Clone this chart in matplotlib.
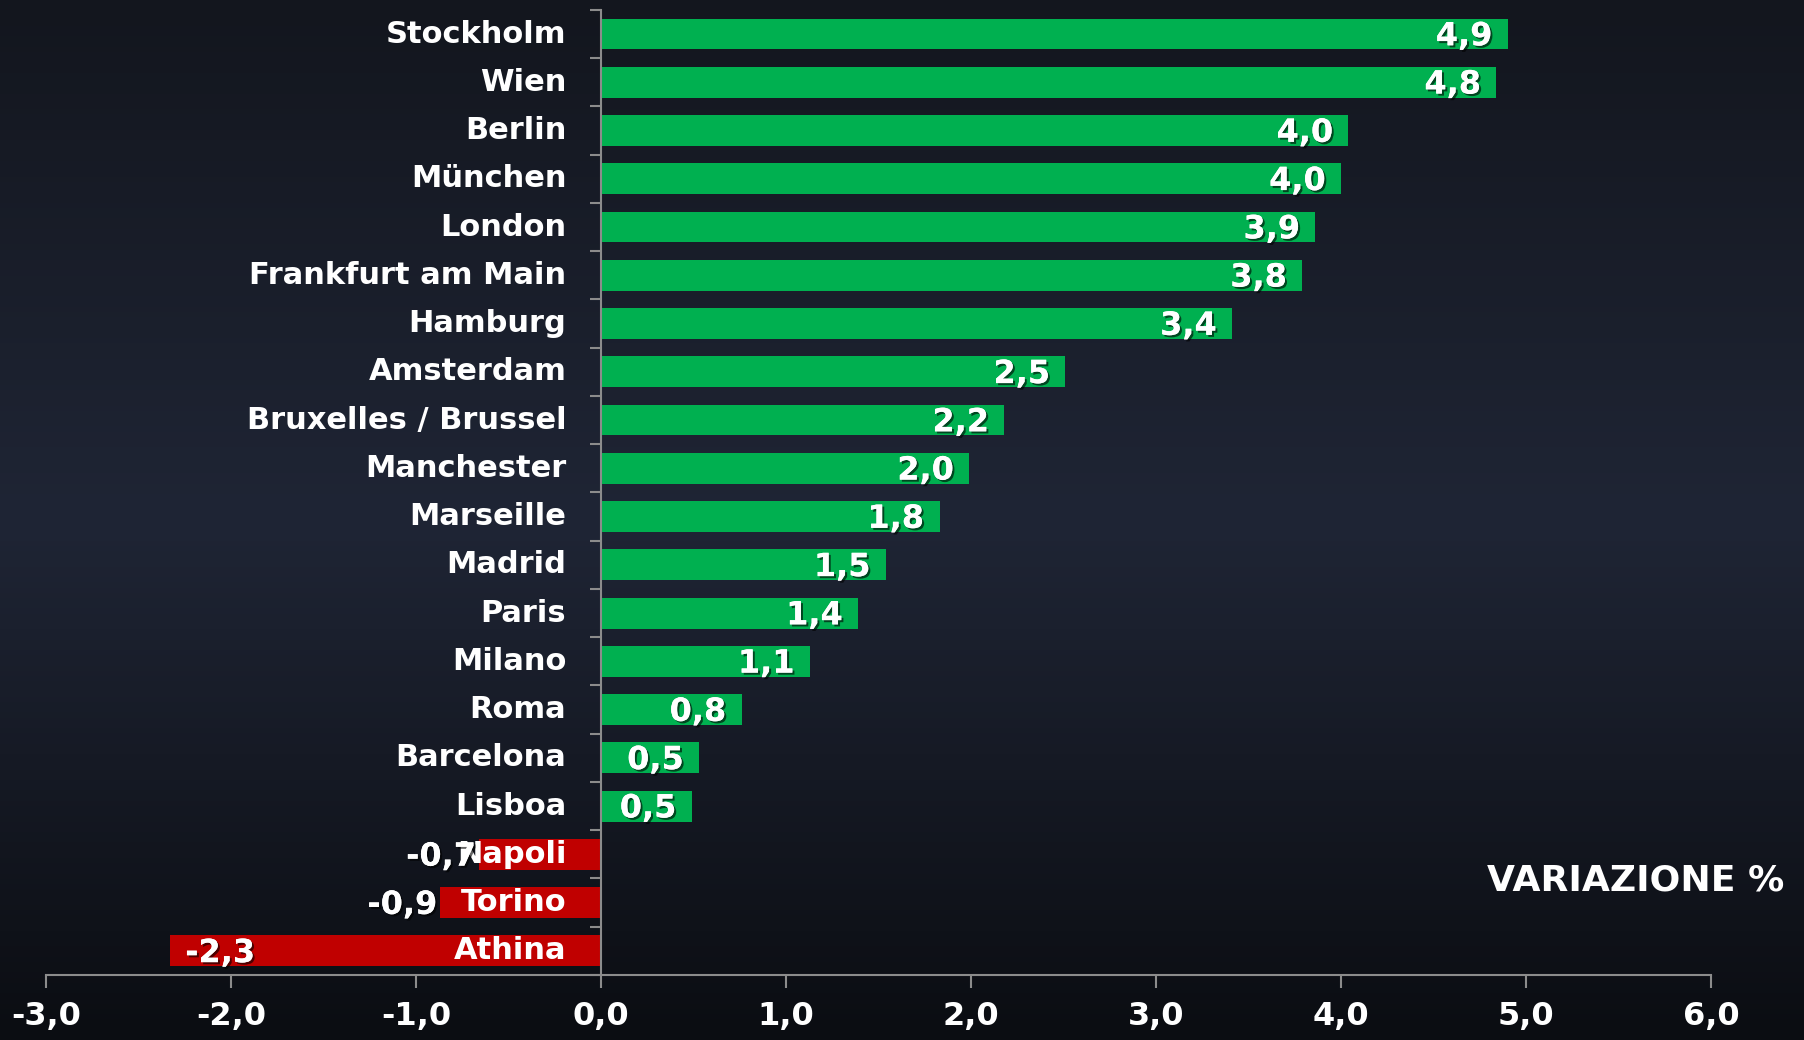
import numpy as np
import matplotlib
matplotlib.use("Agg")
import matplotlib.pyplot as plt
import matplotlib.patheffects as pe
from matplotlib.colors import LinearSegmentedColormap

plt.rcParams['font.family'] = ['DejaVu Sans']
plt.rcParams['font.weight'] = 'bold'

cities = ['Stockholm', 'Wien', 'Berlin', 'München', 'London', 'Frankfurt am Main',
          'Hamburg', 'Amsterdam', 'Bruxelles / Brussel', 'Manchester', 'Marseille',
          'Madrid', 'Paris', 'Milano', 'Roma', 'Barcelona', 'Lisboa', 'Napoli',
          'Torino', 'Athina']
values = [4.90, 4.84, 4.04, 4.00, 3.86, 3.79, 3.41, 2.51, 2.18, 1.99, 1.83,
          1.54, 1.39, 1.13, 0.76, 0.53, 0.49, -0.66, -0.87, -2.33]
xticks = [-3, -2, -1, 0, 1, 2, 3, 4, 5, 6]

green = '#00b050'
red = '#c00000'

fig = plt.figure(figsize=(18.04, 10.40), dpi=100)

# background gradient: darker at top/bottom, lighter in the middle
bg = fig.add_axes([0, 0, 1, 1], zorder=-10)
cmap = LinearSegmentedColormap.from_list('bg', ['#0b0d12', '#1f2535', '#13161e'])
grad = np.concatenate([np.linspace(0, 0.5, 100), np.linspace(0.5, 1, 100)]).reshape(-1, 1)
bg.imshow(grad, aspect='auto', cmap=cmap, extent=[0, 1, 0, 1], origin='lower')
bg.axis('off')

ax = fig.add_axes([0.0255, 0.0625, 0.9230, 0.928])
ax.set_facecolor('none')

n = len(cities)
y = np.arange(n)[::-1]
colors = [green if v >= 0 else red for v in values]
ax.barh(y, values, height=0.64, color=colors, zorder=2)

ax.set_xlim(-3, 6)
ax.set_ylim(-0.5, n - 0.5)

# city names, right aligned just left of zero
for yi, name in zip(y, cities):
    ax.annotate(name, (0, yi), xytext=(-25, 0), textcoords='offset points',
                ha='right', va='center', color='white', fontsize=22,
                fontweight='bold', zorder=4)

shadow = [pe.withSimplePatchShadow(offset=(1.5, -1.5), shadow_rgbFace='black', alpha=0.6),
          pe.Normal()]
for yi, v in zip(y, values):
    txt = f"{v:.1f}".replace('.', ',')
    if v >= 0:
        xt, ha = -11, 'right'
    elif v > -1.5:
        xt, ha = -2, 'right'
    else:
        xt, ha = 11, 'left'
    ax.annotate(txt, (v, yi), xytext=(xt, -2), textcoords='offset points',
                ha=ha, va='center', color='white', fontsize=23,
                fontweight='bold', path_effects=shadow, zorder=5)

# spines
for s in ['top', 'right']:
    ax.spines[s].set_visible(False)
ax.spines['left'].set_position(('data', 0))
ax.spines['left'].set_color('#8c8c8c')
ax.spines['bottom'].set_color('#8c8c8c')
ax.spines['left'].set_linewidth(1.5)
ax.spines['bottom'].set_linewidth(1.5)

ax.set_yticks(np.arange(n + 1) - 0.5)
ax.set_yticklabels([])
ax.tick_params(axis='y', direction='out', length=8, width=1.5, color='#8c8c8c')

ax.set_xticks(xticks)
ax.set_xticklabels([f"{t:.1f}".replace('.', ',') for t in xticks])
ax.tick_params(axis='x', direction='out', length=9, width=1.5, color='#8c8c8c',
               labelcolor='white', labelsize=23, pad=10)
for lbl in ax.get_xticklabels():
    lbl.set_fontweight('bold')

fig.text(0.989, 0.153, 'VARIAZIONE %', ha='right', va='center', color='white',
         fontsize=26, fontweight='bold')

fig.savefig('out.png', dpi=100)
